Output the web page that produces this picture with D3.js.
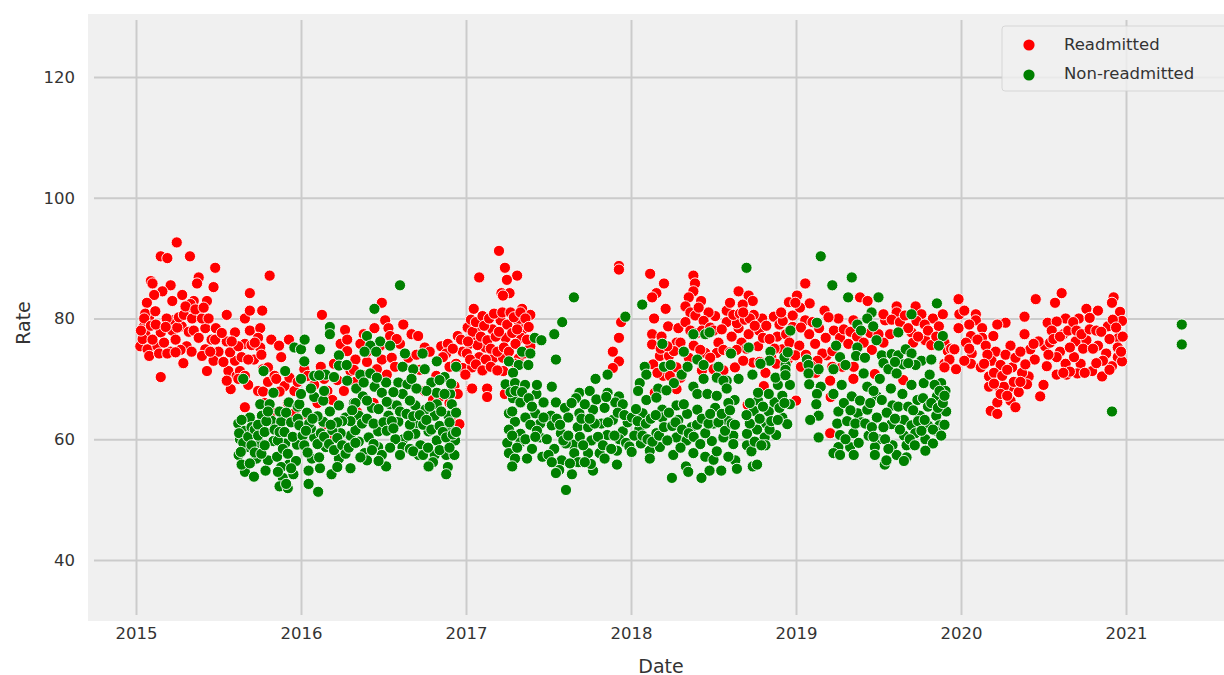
<!DOCTYPE html>
<html>
<head>
<meta charset="utf-8">
<script src="https://cdn.jsdelivr.net/npm/d3@7"></script>
<style>
html, body { margin: 0; padding: 0; background: #fff; overflow: hidden; }
svg { display: block; font-family: "DejaVu Sans", sans-serif; }
</style>
</head>
<body>
<div id="chart"></div>
<script>
/* values: [year fraction, rate] */
const yearTicks = [2015, 2016, 2017, 2018, 2019, 2020, 2021]
const rateTicks = [40, 60, 80, 100, 120]
const seriesNames = ['Readmitted', 'Non-readmitted']

const readmitted2015 = [[.247,92.6],[.15,90.3],[.19,90],[.327,90.3],[.48,88.4],[.81,87.1],[.38,86.8],[.37,85.8],[.09,86.2],[.1,85.8],[.21,85.5],[.47,85.2],[.16,84.5],[.11,83.9],[.28,83.9],[.69,84.2],[.22,82.9],[.35,82.9],[.43,82.9],[.066,82.6],[.315,81.9],[.33,82.4],[.026,75.4],[.046,78.6],[.056,77.5],[.07,74.9],[.13,75.4],[.15,77.7],[.21,74.5],[.22,79.7],[.08,80.3],[.056,80.8],[.117,81.2],[.186,80],[.22,78],[.277,78.7],[.307,75.4],[.337,74.5],[.373,80.9],[.42,78.4],[.484,78.4],[.458,76.5],[.42,74.9],[.5,74.5],[.55,76.2],[.6,77.7],[.66,75.8],[.6,73],[.47,73],[.287,72.6],[.15,70.3],[.43,71.3],[.55,80.6],[.66,80],[.69,81.3],[.765,81.3],[.69,78],[.753,78.4],[.74,76.8],[.753,75.2],[.715,73.2],[.56,71.3],[.574,68.3],[.61,70.5],[.55,69.7],[.77,71.6],[.74,68],[.77,67.9],[.8,71.9],[.82,76.5],[.867,75.5],[.927,76.5],[.88,73.6],[.66,65.3],[.9,68.8],
[.04,76.6],[.03,78],[.05,80],[.09,78.8],[.1,76.5],[.08,73.8],[.12,79],[.14,74.2],[.17,76],[.18,78.6],[.19,74.2],[.24,76.5],[.25,78.5],[.26,80.2],[.29,80.6],[.3,82],[.34,80],[.36,81.5],[.32,77.8],[.27,74.8],[.24,74.4],[.35,78],[.38,76.8],[.4,80],[.41,81.8],[.44,80],[.4,73.8],[.45,74.5],[.48,76.5],[.52,77.6],[.53,72.8],[.57,74.4],[.62,75.4],[.64,73.6],[.68,73.2],[.7,75.6],[.72,76],[.76,74],[.63,71.3],[.66,70.5],[.58,76.2],[.62,70],[.68,69],[.8,69.5],[.84,70.5],[.87,67.9],[.85,70],[.92,66],[.96,64.3],[.96,68],[.93,70.2],[.98,69.5],[.78,66],[.82,64.5],[.9,63.5]]
const readmitted2016 = [[.127,80.6],[.267,78.1],[.24,75.8],[.28,74.6],[.445,78.4],[.49,82.6],[.51,79.7],[.53,78.4],[.62,79],[.54,77.1],[.67,77.4],[.71,77.1],[.75,75.2],[.49,73.2],[.55,73.5],[.33,73.2],[.38,77.4],[.28,76.5],[.85,75.4],[.89,75.8],[.95,77.1],[.98,74.5],[1,70.7],[1.03,68.4],[.93,68.8],[.95,67.5],[.02,71.6],[.04,70.5],[.08,69],[.12,72],[.14,70],[.16,68],[.19,66.5],[.2,72.5],[.22,69.8],[.26,68],[.3,71.3],[.33,69.5],[.38,70.6],[.4,72.8],[.46,71.6],[.52,70.7],[.57,72],[.6,75.8],[.65,73.5],[.7,74],[.72,71.5],[.78,74.5],[.82,70.5],[.75,68],[.8,66.5],[.84,67],[.9,72],[.88,74.2],[.92,75],[.94,72.5],[.97,76.5],[.86,73.6],[.98,71.8],[.9,66],[.92,64],[.94,64.5],[.96,62.5],[.14,62.5],[.17,60.5],[.04,64],[.1,66],[.44,66],[.34,64.5],[.58,76.6],[.48,75.5],[.43,74.8],[.36,75.8],[.32,71.5],[.4,74.5]]
const readmitted2017 = [[.2,91.2],[.236,88.4],[.31,87.1],[.08,86.8],[.248,86.4],[.215,84.2],[.264,84.2],[.224,83.8],[.047,81.6],[.34,81.6],[.39,80.6],[.21,79.7],[.16,78.2],[.073,78.7],[.32,79.4],[.345,78.2],[.24,76.8],[.335,76.8],[.057,76.8],[.118,75.2],[.167,73.5],[.037,71.9],[-.004,70.7],[.128,68.4],[.128,67],[.037,68.4],[.226,71.3],[.224,73.5],[.39,75.4],[.235,67.5],[.28,67.7],
[.927,88.7],[.927,88.1],[.94,79.4],[.927,76.8],[.89,74.5],[.927,72.9],[.89,71.8],
[.01,78.5],[.02,75.8],[.03,79.8],[.04,77.8],[.06,79.4],[.07,75.6],[.08,73.6],[.09,77],[.1,80.4],[.11,78.8],[.12,73.2],[.13,76.4],[.14,80],[.15,75],[.17,80.8],[.18,77],[.19,74.5],[.2,77.8],[.22,81],[.23,75.2],[.25,79],[.26,74.5],[.27,81],[.28,77.6],[.29,80.2],[.3,75.8],[.31,78.2],[.32,73.4],[.33,81],[.36,80],[.37,76.5],[.38,78.6],[.3,72.5],[.35,74.2],[.005,74.2],[.012,76.2],[.025,73.2],[.06,72.4],[.1,71.4],[.15,72],[.19,71.4]]
const readmitted2018 = [[.116,87.4],[.2,85.8],[.154,84.2],[.128,83.5],[.378,87.1],[.388,85.8],[.378,84.5],[.35,83.5],[.425,82.9],[.652,84.5],[.713,83.8],[.738,82.9],[.677,82.3],[.21,81.6],[.14,80],[.225,78.7],[.128,77.4],[.128,75.7],[.185,77],[.287,78.4],[.276,76],[.58,81.3],[.58,79.4],[.652,78.4],[.51,80.4],[.47,81],[.866,80.3],[.795,80],[.744,80.6],[.776,78],[.713,77.4],[.642,79.2],[.61,77],[.53,76],[.45,74.3],[.52,74.3],[.886,77],[.917,74.9],[.998,82.9],[.957,82.7],[.63,71.9],[.74,72.7],[.815,71],[.195,70.5],[.236,70.5],[.134,72.4],[.175,73.8],[.276,71.9],[.805,68.8],[.144,67.7],[.276,68.3],[.707,65.7],[1,66.4],
[.33,82],[.36,81],[.39,80.5],[.41,81.8],[.44,79.6],[.33,79.4],[.36,78],[.4,77.6],[.43,78],[.3,76],[.32,74.5],[.35,73.5],[.38,75.5],[.42,74.8],[.48,78.5],[.5,78],[.55,78.2],[.56,74.8],[.6,74.4],[.62,80.6],[.66,80.8],[.67,76],[.69,79.8],[.7,75],[.72,80],[.75,78.8],[.77,75.4],[.8,76.8],[.82,78.8],[.84,76.6],[.85,73.6],[.87,75],[.9,79],[.92,79.6],[.94,77.4],[.96,76],[.98,78.6],[.88,72.5],[.95,73.2],[.97,74],[.68,73],[.78,72.8],[.64,74.8],[.48,73.5],[.23,73.8],[.26,74.6],[.18,75],[.22,75.4],[.16,71],[.3,70.2],[.56,71.4],[.5,71.6],[.43,71.4],[.98,80.5],[.91,81],[.68,81],[.6,82.6]]
const readmitted2019 = [[.059,85.8],[.008,83.8],[.083,82.5],[.024,81.8],[.056,85.8],[.006,83.8],[-.004,82.6],[.388,83.5],[.434,82.9],[.173,81.3],[.61,82],[.61,81],[.725,82],[.54,79.7],[.53,80.7],[.257,80],[.197,80.2],[.056,79.7],[.348,79.7],[.83,80],[.89,80.7],[.76,80.7],[.866,78.7],[.784,76.4],[.7,77.7],[.23,78],[.116,75.8],[.02,75.5],[.18,76.8],[.267,76.8],[.317,75.8],[-.004,73.9],[.186,73.9],[.57,77.4],[.53,76],[.71,76],[.348,70],[.478,70.8],[.207,69.7],[.207,61],[.65,69.8],[.21,67],[.985,83.2],
[.03,78.5],[.08,77.4],[.1,79.4],[.14,78.4],[.16,74.2],[.22,74.6],[.29,78.2],[.33,77.8],[.37,77],[.41,76],[.45,77.6],[.46,74.8],[.5,77.4],[.58,79.8],[.63,79.4],[.66,80.5],[.68,78.4],[.73,79.6],[.74,77],[.78,79],[.8,78],[.82,75.6],[.85,77],[.9,76],[.92,74.6],[.94,75],[.96,74.9],[.13,73],[.06,74],[.09,72.2],[.03,72],[.22,72],[.28,72],[.35,72],[.12,71],[.985,78.4],[.99,80.7],[.9,72.5],[.93,73.2]]
const readmitted2020 = [[.02,81.3],[.09,80.7],[.09,79.7],[.27,79.3],[.22,79],[.385,80.3],[.385,77.4],[.128,78.4],[.196,77.1],[.06,77.1],[.128,76.8],[-.04,74.9],[.065,74.2],[-.07,73.2],[-.1,71.9],[-.03,71.6],[.06,72.5],[.12,71.9],[.21,74.5],[.185,73],[.24,72.3],[.3,75.5],[.27,74],[.17,70.4],[.31,71.9],[.41,70.4],[.447,73.2],[.42,74.9],[.5,69],[.48,67.1],[.18,64.7],[.22,64.2],[.22,66.1],[.3,66.4],[.33,65.3],[.17,68.7],[.3,68.7],[.23,68.7],[.26,68.7],[.35,67.8],[.4,69.1],[.61,84.2],[.453,83.2],[.57,82.6],[.525,79.3],[.634,80],[.58,79.5],[.714,80],[.76,81.6],[.83,81.3],[.78,80.1],[.62,77.4],[.695,76.2],[.76,76.4],[.83,75.5],[.955,76.8],[.89,78.7],[.925,83.5],[.915,82.6],[.964,81.1],[.976,79.6],[.95,75.2],[.95,73.6],[.976,72.9],[.915,72.1],[.88,74.2],[.855,70.4],[.795,71.3],[.725,72.5],[.705,70.9],[.634,72.5],[.58,70.7],[.64,70.7],[.52,72.1],[.6,74.5],[.51,75.4],[.685,73.6],
[.03,76],[.05,79],[.1,76.5],[.15,75.5],[.16,74],[.05,75],[.02,73],[.14,72.5],[.2,71],[.25,70.5],[.28,71.5],[.33,73.5],[.36,74.5],[.37,71],[.39,72.4],[.24,67.5],[.28,67.2],[.32,69.5],[.36,69.5],[.2,69.2],[.54,76],[.55,78],[.56,76.6],[.58,73.6],[.6,77],[.65,78],[.66,75.2],[.68,79.4],[.7,78],[.73,77.4],[.74,75],[.78,78.2],[.8,75],[.82,78],[.85,77.8],[.86,73],[.9,76.6],[.92,79.8],[.94,78.5],[.97,74.5],[.98,77],[.66,71.2],[.75,71],[.82,72.6],[.9,71.5],[.53,74],[.47,76.2],[.44,75.8],[.62,71]]

const nonReadmitted2015 = [[.96,75.2],[1,74.9],[.65,70],[.773,71.3],[.904,71.3],[.62,62.6],[.66,61.4],[.63,60],[.67,58.7],[.622,57.4],[.66,54.6],[.715,53.8],[.69,63.6],[.763,63.9],[.753,65.8],[.81,65.8],[.833,67.7],[.82,63.1],[.88,62.9],[.87,64.6],[.926,66.1],[.75,59.4],[.833,59.7],[.904,59.3],[.976,59.1],[.73,56.8],[.8,56.5],[.855,57.1],[.926,55.8],[.785,54.8],[.89,53.6],[.87,52.2],[.92,51.9],[.954,54.2],
[.625,61],[.64,63.2],[.65,59.4],[.635,57.9],[.64,55.8],[.68,60.4],[.7,62],[.7,59],[.69,56],[.72,61.6],[.72,57.8],[.74,62.4],[.74,60.6],[.76,57.6],[.78,61.2],[.78,59],[.79,63],[.8,64.6],[.84,61.6],[.86,59.8],[.87,61.2],[.88,55.4],[.89,58.4],[.9,61.2],[.91,64.4],[.92,57.6],[.94,62.8],[.95,60.4],[.97,56.4],[.98,63.4],[.98,65.4],[.86,54.6],[.91,52.6],[.94,55.2]]
const nonReadmitted2016 = [[.6,85.5],[.445,81.6],[.175,78.6],[.175,77.4],[.022,76.5],[.115,74.9],[.02,72.9],[0,70],[.046,54.8],[.046,52.6],[.104,51.3],[.115,55.2],[.066,56.8],[.185,54.2],[.23,56.8],[.3,55.2],[.22,55.4],[.15,58.7],[.08,60.3],[.01,60.6],[-.01,62.3],[.135,62.9],[.175,64.6],[.036,64.4],[-.01,65.8],[0,67.5],[.08,67],[.135,66.4],[.23,65.6],[.08,70.5],[.15,70.7],[.11,70.6],[.2,70.3],[.28,69.7],[.23,73.9],[.23,72.2],[.277,72.3],[.4,77.1],[.48,76.2],[.42,75.5],[.385,74.5],[.456,74.5],[.54,75.5],[.63,74.2],[.737,74.2],[.823,72.9],[.94,72],[.616,72],[.68,71.6],[.75,71.6],[.36,70.7],[.42,70.9],[.446,68.7],[.335,68.4],[.375,67.1],[.49,67.7],[.516,69.4],[.59,69.4],[.645,69.1],[.616,67.5],[.67,70],[.79,69.4],[.87,70.3],[.823,67.7],[.904,67.5],[.914,65.8],[.823,65.8],[.753,64.9],[.693,65.6],[.54,65.8],[.43,65.2],[.35,63.9],[.27,63.6],[.53,63.9],[.59,62.9],[.703,62.6],[.81,63.9],[.894,63.9],[.904,61.6],[.934,59.8],[.773,61.3],[.693,60.9],[.62,60],[.572,60],[.468,61.3],[.41,60.3],[.3,60.6],[.24,61],[.468,58.7],[.385,57.7],[.49,57.4],[.4,56.5],[.516,55.5],[.615,58.7],[.724,59],[.713,57.4],[.81,57.4],[.88,57.4],[.93,57.4],[.8,56.2],[.773,55.5],[.89,55.4],[.88,54.2],[.823,59.8],
[.02,59],[.04,57.8],[.06,61.8],[.1,59.2],[.11,57],[.12,61],[.14,60.4],[.17,59.2],[.19,61.5],[.2,58.2],[.22,60.2],[.25,59],[.27,57.6],[.29,58.6],[.33,61.5],[.32,66],[.37,62.6],[.4,63.4],[.44,62.6],[.47,65],[.5,62.8],[.52,61.4],[.55,63],[.56,67.8],[.58,65.6],[.6,64.6],[.64,64.2],[.66,62.4],[.65,60.6],[.68,63.8],[.72,64],[.74,62.4],[.76,63.2],[.79,61.6],[.84,62.2],[.85,64.6],[.86,61.2],[.87,67.5],[.88,60.3],[.9,62.8],[.92,60.8],[.94,61.2],[.94,64.4],[.91,69.2],[.84,69.8],[.78,65.4],[.76,68],[.7,68.4],[.66,66.4],[.52,66.2],[.46,70.2],[.4,66.4],[.38,69.4],[.33,66],[.31,64.8],[.3,63],[.25,63],[.22,62.8],[.18,62.4],[.1,63.8],[.05,62.6],[.03,61.4],[.07,63.4],[.14,68],[.06,68.4],[.35,59.6],[.44,59.2],[.54,58.6],[.56,61.8],[.66,58.4],[.68,58],[.74,57.4],[.84,58.2],[.9,58.6],[.33,59.4],[.36,57],[.47,56.4],[.43,58.2],[.6,57.4],[.77,58.6]]
const nonReadmitted2017 = [[.654,83.5],[.583,79.4],[.535,77.4],[.417,76.8],[.457,76.4],[.545,73.2],[.34,74.5],[.39,74.2],[.26,72.9],[.32,72.3],[.378,72.3],[.285,71],[.24,69.1],[.297,69.3],[.358,69],[.285,66.8],[.427,67.5],[.43,69],[.52,68.7],[.858,70.7],[.785,70],[.687,67.7],[.667,66.8],[.75,68],[.858,67.7],[.927,67.1],[.33,66.1],[.47,66.1],[.545,66.1],[.26,64.3],[.42,64.3],[.515,63.9],[.6,65.2],[.687,64.3],[.77,64.9],[.84,65.2],[.905,66.1],[.95,65.8],[.297,62.9],[.45,62.6],[.52,62.3],[.62,63.6],[.677,62],[.74,62],[.82,62.6],[.89,63.2],[.95,61.3],[.26,61.6],[.33,60.9],[.45,60.3],[.575,61],[.65,59.1],[.76,59.8],[.856,60.7],[.93,60],[.25,59.4],[.33,59.5],[.4,58.4],[.535,58.4],[.605,59.3],[.74,57.7],[.81,57.7],[.915,58.1],[.26,57.7],[.297,56.8],[.37,56.8],[.463,57.1],[.28,55.5],[.58,56.5],[.656,57.7],[.565,54.9],[.545,54.4],[.642,54.2],[.77,54.8],[.915,55.8],[.606,51.6],[.84,56.8],[.757,55.9],
[.27,67.8],[.3,68],[.34,67.8],[.38,66.8],[.4,65.4],[.36,63.6],[.39,62.4],[.43,61.4],[.47,63.6],[.49,60],[.55,63.4],[.57,62.4],[.59,59.8],[.62,60.6],[.64,66],[.69,60.4],[.71,59],[.72,65.8],[.78,62.6],[.79,66.6],[.8,60.4],[.83,59],[.86,62.8],[.88,58.4],[.9,60.6],[.92,64.4],[.97,59.4],[.98,62.8],[.99,58.8],[.28,60.6],[.31,58.6],[.36,60],[.42,60.4],[.5,57.4],[.68,56.2],[.72,56.2],[.63,56],[.52,56.2],[.28,64.6],[.7,63.4],[.75,63.4],[.85,67],[.96,64]]
const nonReadmitted2018 = [[.7,88.4],[.19,75.8],[.378,77.4],[.45,77.4],[.476,77.7],[.32,74.5],[.606,74.2],[.713,75.2],[.845,74.5],[.84,73],[.785,72.5],[.736,70.7],[.652,70],[.2,72],[.24,72.3],[.083,72],[.093,70.7],[.307,70.7],[.343,72],[.402,73.2],[.44,72.3],[.44,70],[.378,68.7],[.53,72],[.58,69.7],[.52,70.2],[.56,69.7],[.053,69.3],[.043,68],[.26,69.3],[.165,68.4],[.215,68.1],[.402,67.5],[.463,67.5],[.52,67.2],[.58,68.4],[.628,66.5],[.093,66.5],[.07,64.3],[.19,64.9],[.276,65.6],[.154,66.9],[.51,65.2],[.402,64.9],[.287,63.2],[.19,63.6],[.34,64.2],[.5,62.6],[.58,63.2],[.368,62],[.05,61.6],[.154,61],[.276,60.3],[.62,60.6],[.006,63.6],[.06,59.3],[.004,57.9],[.114,58.1],[.175,58.7],[.256,57.4],[.337,59.8],[.378,57.7],[.45,57.1],[.49,59.7],[.56,60.3],[.62,59.2],[.632,56.5],[.59,57.1],[.114,56.8],[.333,55.5],[.347,54.6],[.427,53.6],[.476,54.8],[.547,54.8],[.642,55.1],[.248,53.6],
[.738,55.5],[.764,55.8],[.703,59],[.764,61.6],[.81,60.3],[.82,62.6],[.88,60.7],[.917,63.6],[.947,62.5],[.835,64.6],[.87,66.1],[.963,65.8],[.917,67.2],[.963,69],[.89,69],[.835,67.5],[.77,66.4],[.744,64.7],[.77,67.7],[.937,70.9],[.937,72.3],[.876,70.2],[.815,59],[.703,60.9],[.068,82.3],[-.034,80.3],
[.02,60.6],[.03,65],[.04,63],[.07,60.6],[.09,62.6],[.1,60],[.12,63.4],[.13,59.6],[.15,64],[.17,60.6],[.2,62],[.22,59.8],[.23,64.4],[.25,62.2],[.27,62.8],[.3,58.6],[.31,61.6],[.32,65.8],[.35,61],[.38,60.4],[.4,62.4],[.42,59.2],[.43,63.4],[.45,61],[.47,62.6],[.48,64.2],[.5,56.6],[.52,58],[.53,62.8],[.55,64.2],[.57,61.4],[.59,66],[.6,64.8],[.61,62.6],[.63,62.4],[.72,62.6],[.73,58],[.75,59.6],[.78,63.4],[.79,59],[.8,65.4],[.84,61.6],[.85,63],[.89,63.2],[.9,65.2],[.93,66],[.7,64],[.72,66],[.93,73.6],[.95,74.4]]
const nonReadmitted2019 = [[.15,90.3],[.338,86.8],[.22,85.5],[.316,83.5],[.5,83.5],[.854,82.5],[.458,81],[.432,80],[.7,80.7],[.127,79.3],[.372,79],[.468,78.7],[.394,78],[.62,77.7],[-.034,78],[.488,76.4],[.89,77.1],[.866,75.5],[.243,75.5],[.372,75.2],[.267,73.6],[.364,73.8],[.418,73.5],[.066,73.2],[.076,72.3],[.137,71.6],[.227,71.6],[.3,72.3],[.076,70.9],[-.064,71.5],[-.064,70.6],[.08,69.1],[.15,68.7],[.127,67.5],[.123,65.8],[.137,63.9],[.086,63.2],[.137,60.3],
[.52,73.9],[.58,74.1],[.62,73.9],[.665,74.9],[.7,74.2],[.76,73],[.82,73.2],[.53,72.6],[.56,71.6],[.61,70.9],[.65,72.4],[.725,72.3],[.41,70.9],[.508,70],[.7,69],[.774,69.3],[.81,70.7],[.88,69.3],[.906,68],[.854,67.1],[.645,67.5],[.575,68.4],[.432,68.7],[.277,69],[.227,67.5],[.338,67.1],[.49,67.1],[.388,66.4],[.585,65.6],[.736,66.5],[.257,64.6],[.374,64.3],[.49,63.6],[.432,64.9],[.55,64.4],[.654,63.2],[.75,63.9],[.85,63.9],[.91,64.6],[.25,62.6],[.398,62.8],[.578,62.5],[.7,62.3],[.8,62.3],[.87,62.3],[.267,60.7],[.348,61],[.44,60.6],[.5,60],[.655,60.6],[.723,61],[.856,61.3],[.784,60],[.257,58.7],[.328,58.7],[.478,58.7],[.585,59],[.67,59],[.83,59.3],[.227,57.7],[.267,57.4],[.35,57.4],[.478,57.4],[.61,57.4],[.67,57],[.784,58.1],[.538,55.8],[.548,56.5],[.654,56.4],
[.29,66],[.31,63],[.3,60],[.33,64.8],[.36,62.6],[.38,59.4],[.42,62.6],[.45,66],[.46,62],[.47,60.4],[.52,66.5],[.53,62],[.54,60],[.56,58.4],[.6,63.4],[.62,65.4],[.63,61.6],[.68,65.4],[.69,60],[.71,64.8],[.72,59],[.74,63],[.76,61.4],[.77,66.8],[.78,63.2],[.8,65.4],[.82,66],[.83,61.6],[.84,69],[.86,65.2],[.87,68],[.89,66],[.9,62.4],[.9,67.2],[.88,60.6],[.6,72.8],[.68,72.6],[.47,68]]
const nonReadmitted2020 = [[.915,64.6]]
const nonReadmitted2021 = [[.338,79],[.338,75.7]]

/* turn the per year lists into [date, rate] points */
const toPoints = (year, list) => list.map(d => [year + d[0], d[1]])

const readmitted = [].concat(
    toPoints(2015, readmitted2015), toPoints(2016, readmitted2016), toPoints(2017, readmitted2017),
    toPoints(2018, readmitted2018), toPoints(2019, readmitted2019), toPoints(2020, readmitted2020))
const nonReadmitted = [].concat(
    toPoints(2015, nonReadmitted2015), toPoints(2016, nonReadmitted2016), toPoints(2017, nonReadmitted2017),
    toPoints(2018, nonReadmitted2018), toPoints(2019, nonReadmitted2019), toPoints(2020, nonReadmitted2020),
    toPoints(2021, nonReadmitted2021))

const width = 1224
const height = 675
const plot = { left: 88, right: 1224, top: 14, bottom: 621, inset: 6 }
const textColor = '#333'
const gridColor = '#cbcbcb'
const colors = ['red', 'green']

const svg = d3.select('#chart')
    .append('svg')
    .attr('width', width)
    .attr('height', height)
    .attr('viewBox', `0 0 ${width} ${height}`)

const x = d3.scaleLinear().domain([2015, 2021]).range([136, 1126])
const y = d3.scaleLinear().domain([40, 120]).range([560, 77])

svg.append('rect') // plot background
    .attr('x', plot.left)
    .attr('y', plot.top)
    .attr('width', plot.right - plot.left)
    .attr('height', plot.bottom - plot.top)
    .style('fill', '#f0f0f0')

/* axes, their tick lines double as the grid */
const xAxis = svg.append('g')
    .attr('transform', `translate(0,${plot.bottom - plot.inset})`)
    .call(d3.axisBottom(x).tickValues(yearTicks).tickFormat(d3.format('d'))
        .tickSize(-(plot.bottom - plot.top - 2 * plot.inset)).tickPadding(12))
const yAxis = svg.append('g')
    .attr('transform', `translate(${plot.left + plot.inset},0)`)
    .call(d3.axisLeft(y).tickValues(rateTicks)
        .tickSize(-(plot.right - plot.left)).tickPadding(19))

;[xAxis, yAxis].forEach(axis => {
    axis.select('.domain').remove()
    axis.selectAll('.tick line').style('stroke', gridColor).style('stroke-width', 2)
    axis.selectAll('.tick text')
        .style('font-family', '"DejaVu Sans", sans-serif')
        .style('font-size', '16.5px')
        .style('fill', textColor)
})

/* readmitted first, the green series sits on top of it */
;[readmitted, nonReadmitted].forEach((points, i) => {
    svg.append('g')
        .selectAll('circle')
        .data(points)
        .join('circle')
        .attr('cx', d => x(d[0]))
        .attr('cy', d => y(d[1]))
        .attr('r', 5.6)
        .style('fill', colors[i])
        .style('stroke', '#fff')
        .style('stroke-width', 0.9)
})

svg.append('text')
    .attr('x', 661)
    .attr('y', 673)
    .attr('text-anchor', 'middle')
    .style('font-size', '19px')
    .style('fill', textColor)
    .text('Date')

svg.append('text')
    .attr('transform', 'translate(30,323) rotate(-90)')
    .attr('text-anchor', 'middle')
    .style('font-size', '19px')
    .style('fill', textColor)
    .text('Rate')

/* legend */
const legend = svg.append('g')
legend.append('rect')
    .attr('x', 1002)
    .attr('y', 26)
    .attr('width', 240)
    .attr('height', 65)
    .attr('rx', 3)
    .style('fill', '#f0f0f0')
    .style('fill-opacity', 0.8)
    .style('stroke', '#cfcfcf')
    .style('stroke-opacity', 0.8)

seriesNames.forEach((name, i) => {
    legend.append('circle')
        .attr('cx', 1029)
        .attr('cy', 45 + i * 30)
        .attr('r', 5.6)
        .style('fill', colors[i])
    legend.append('text')
        .attr('x', 1064)
        .attr('y', 50 + i * 29)
        .style('font-size', '16.5px')
        .style('fill', textColor)
        .text(name)
})
</script>
</body>
</html>
